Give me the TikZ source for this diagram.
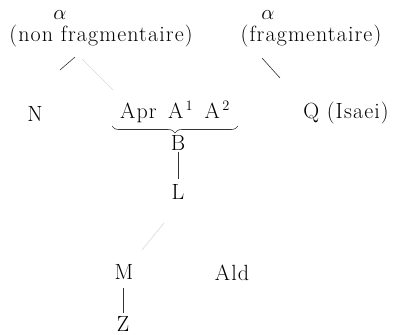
\documentclass[tikz,border=0pt]{standalone}
\usepackage{fontspec}
\setmainfont{Latin Modern Roman}[LetterSpace=5]
\usetikzlibrary{decorations.pathreplacing}
\begin{document}
\begin{tikzpicture}[x=1pt,y=-1pt,
  lbl/.style={inner sep=0pt,font=\fontsize{22}{26}\selectfont},
  edge/.style={line width=0.6pt,black!80},
  faint/.style={line width=0.6pt,black!15}]
\useasboundingbox (0,0) rectangle (397,335);
\node[lbl] (a1) at (60,15) {$\alpha$};
\node[lbl] (nf) at (101,36) {(non fragmentaire)};
\node[lbl] (a2) at (268,15) {$\alpha$};
\node[lbl] (fr) at (311,36) {(fragmentaire)};
\node[lbl] (N) at (35,114) {N};
\node[lbl] (apr) at (175,112) {Apr\, A$^{\,1}$\, A$^{\,2}$};
\node[lbl] (Q) at (346,113) {Q (Isaei)};
\node[lbl] (B) at (178,143) {B};
\node[lbl] (L) at (178,192) {L};
\node[lbl] (M) at (124,272) {M};
\node[lbl] (Ald) at (232,273) {Ald};
\node[lbl] (Z) at (123,324) {Z};
\coordinate (nfa) at (75,57);
\coordinate (nfb) at (60,70);
\coordinate (nfc) at (82,59);
\coordinate (nfd) at (113,90);
\coordinate (fra) at (262,58);
\coordinate (frb) at (280,78);
\coordinate (la) at (164,223);
\coordinate (lb) at (142,250);
\coordinate (bra) at (112,126);
\coordinate (brb) at (238,126);
\draw[edge] (nfa) -- (nfb);
\draw[faint] (nfc) -- (nfd);
\draw[edge] (fra) -- (frb);
\draw[faint] (la) -- (lb);
\draw[edge,decorate,decoration={brace,mirror,amplitude=7pt}] (bra) -- (brb);
\coordinate (bs) at (178,152);
\coordinate (ln) at (178,179);
\draw[edge] (bs) -- (ln);
\coordinate (ms) at (123,288);
\coordinate (zn) at (123,313);
\draw[edge] (ms) -- (zn);
\end{tikzpicture}
\end{document}
